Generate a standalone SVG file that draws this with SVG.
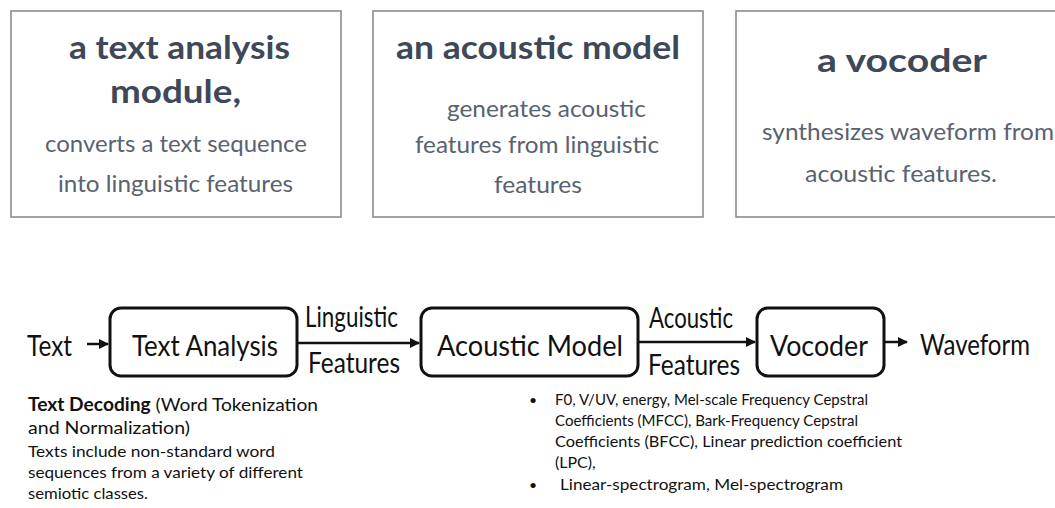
<svg xmlns="http://www.w3.org/2000/svg" width="1055" height="508" viewBox="0 0 1055 508">
<style>
.card{fill:#fff;stroke:#8c8c8c;stroke-width:1.6}
.ttl{font-family:Lato,"Open Sans",sans-serif;font-weight:700;font-size:33px;fill:#3e4859}
.bd{font-family:Lato,"Open Sans",sans-serif;font-size:23px;fill:#59626e}
.blk{fill:#fff;stroke:#111;stroke-width:3}
.lb{font-family:Lato,"Open Sans",sans-serif;font-size:28px;fill:#111}
.cn{stroke:#111;stroke-width:2.5;fill:none}
.nt{font-family:Lato,"Open Sans",sans-serif;fill:#111}
</style>
<defs>
<marker id="ah" viewBox="0 0 10 10" refX="9" refY="5" markerWidth="4" markerHeight="4" orient="auto">
<path d="M0,0 L10,5 L0,10 z" fill="#111"/>
</marker>
</defs>
<rect width="1055" height="508" fill="#fff"/>

<g id="card-text-analysis">
<rect class="card" x="11" y="11" width="330" height="206"/>
<text class="ttl" x="69" y="59" textLength="221" lengthAdjust="spacingAndGlyphs">a text analysis</text>
<text class="ttl" x="110" y="103" textLength="131" lengthAdjust="spacingAndGlyphs">module,</text>
<text class="bd" x="45" y="152" textLength="262" lengthAdjust="spacingAndGlyphs">converts a text sequence</text>
<text class="bd" x="58" y="192" textLength="235" lengthAdjust="spacingAndGlyphs">into linguistic features</text>
</g>

<g id="card-acoustic-model">
<rect class="card" x="373" y="11" width="330" height="206"/>
<text class="ttl" x="396" y="59" textLength="284" lengthAdjust="spacingAndGlyphs">an acoustic model</text>
<text class="bd" x="447" y="117" textLength="199" lengthAdjust="spacingAndGlyphs">generates acoustic</text>
<text class="bd" x="415" y="153" textLength="244" lengthAdjust="spacingAndGlyphs">features from linguistic</text>
<text class="bd" x="494" y="193" textLength="88" lengthAdjust="spacingAndGlyphs">features</text>
</g>

<g id="card-vocoder">
<rect class="card" x="736" y="11" width="330" height="206"/>
<text class="ttl" x="817" y="72" textLength="170" lengthAdjust="spacingAndGlyphs">a vocoder</text>
<text class="bd" x="762" y="140" textLength="292" lengthAdjust="spacingAndGlyphs">synthesizes waveform from</text>
<text class="bd" x="805" y="182" textLength="192" lengthAdjust="spacingAndGlyphs">acoustic features.</text>
</g>

<g id="connectors">
<line class="cn" x1="87" y1="344" x2="108" y2="344" marker-end="url(#ah)"/>
<line class="cn" x1="297" y1="343" x2="419" y2="343" marker-end="url(#ah)"/>
<line class="cn" x1="638" y1="342" x2="755" y2="342" marker-end="url(#ah)"/>
<line class="cn" x1="884" y1="342" x2="907" y2="342" marker-end="url(#ah)"/>
<text class="lb" x="305" y="327" textLength="93" lengthAdjust="spacingAndGlyphs">Linguistic</text>
<text class="lb" x="308" y="373" textLength="92" lengthAdjust="spacingAndGlyphs">Features</text>
<text class="lb" x="649" y="328" textLength="84" lengthAdjust="spacingAndGlyphs">Acoustic</text>
<text class="lb" x="648" y="375" textLength="92" lengthAdjust="spacingAndGlyphs">Features</text>
</g>

<g id="node-text">
<text class="lb" x="27" y="356" textLength="45" lengthAdjust="spacingAndGlyphs">Text</text>
</g>

<g id="node-text-analysis">
<rect class="blk" x="110" y="308" width="187" height="68" rx="11"/>
<text class="lb" x="132" y="356" textLength="146" lengthAdjust="spacingAndGlyphs">Text Analysis</text>
</g>

<g id="node-acoustic-model">
<rect class="blk" x="421" y="308" width="217" height="68" rx="11"/>
<text class="lb" x="437" y="356" textLength="186" lengthAdjust="spacingAndGlyphs">Acoustic Model</text>
</g>

<g id="node-vocoder">
<rect class="blk" x="757" y="308" width="127" height="68" rx="11"/>
<text class="lb" x="770" y="356" textLength="98" lengthAdjust="spacingAndGlyphs">Vocoder</text>
</g>

<g id="node-waveform">
<text class="lb" x="920" y="355" textLength="110" lengthAdjust="spacingAndGlyphs">Waveform</text>
</g>

<g id="note-text-decoding">
<text class="nt" x="28" y="411" font-size="18" textLength="290" lengthAdjust="spacingAndGlyphs"><tspan font-weight="700">Text Decoding</tspan> (Word Tokenization</text>
<text class="nt" x="28" y="434" font-size="18" textLength="162" lengthAdjust="spacingAndGlyphs">and Normalization)</text>
<text class="nt" x="28" y="457" font-size="16" textLength="247" lengthAdjust="spacingAndGlyphs">Texts include non-standard word</text>
<text class="nt" x="28" y="478" font-size="16" textLength="275" lengthAdjust="spacingAndGlyphs">sequences from a variety of different</text>
<text class="nt" x="28" y="499" font-size="16" textLength="120" lengthAdjust="spacingAndGlyphs">semiotic classes.</text>
</g>

<g id="note-acoustic-features">
<text class="nt" x="529" y="405" font-size="14">•</text>
<text class="nt" x="555" y="405" font-size="16" textLength="313" lengthAdjust="spacingAndGlyphs">F0, V/UV, energy, Mel-scale Frequency Cepstral</text>
<text class="nt" x="555" y="426" font-size="16" textLength="303" lengthAdjust="spacingAndGlyphs">Coefficients (MFCC), Bark-Frequency Cepstral</text>
<text class="nt" x="555" y="447" font-size="16" textLength="347" lengthAdjust="spacingAndGlyphs">Coefficients (BFCC), Linear prediction coefficient</text>
<text class="nt" x="555" y="468" font-size="16">(LPC),</text>
<text class="nt" x="529" y="490" font-size="14">•</text>
<text class="nt" x="560" y="490" font-size="16" textLength="283" lengthAdjust="spacingAndGlyphs">Linear-spectrogram, Mel-spectrogram</text>
</g>
</svg>
